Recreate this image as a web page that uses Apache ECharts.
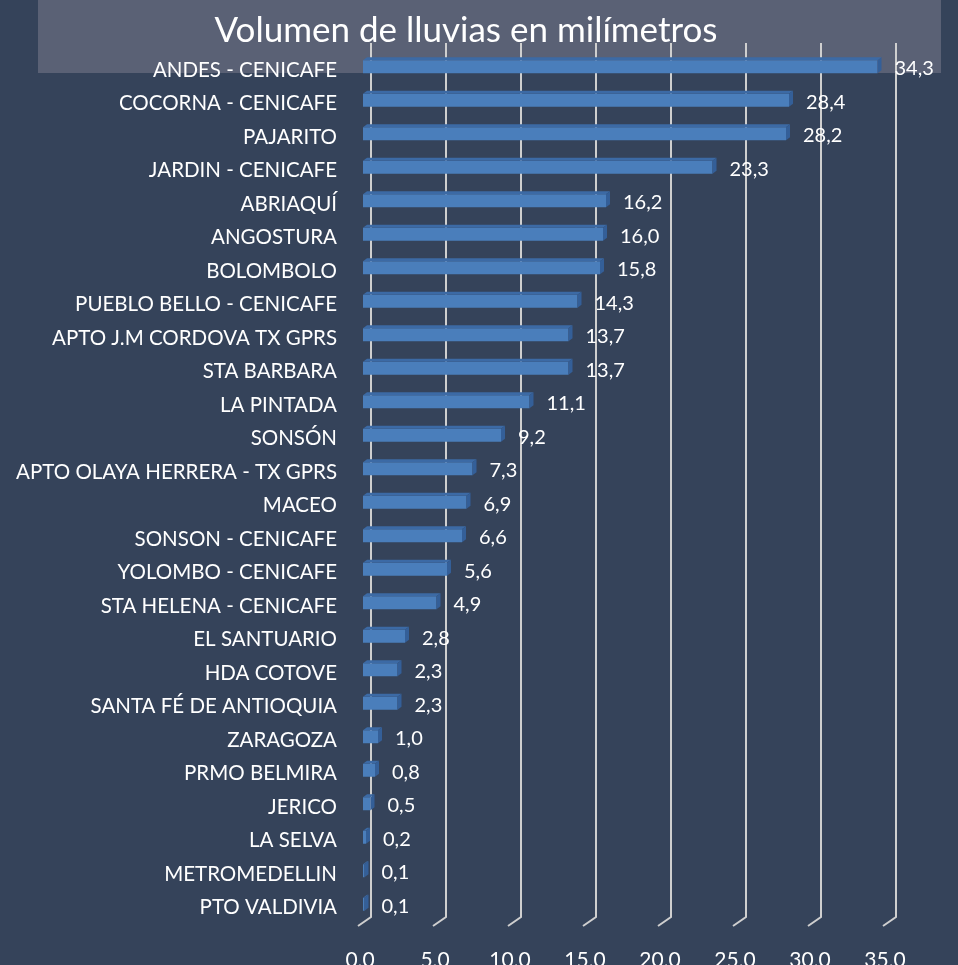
<!DOCTYPE html>
<html><head><meta charset="utf-8">
<script src="https://cdn.jsdelivr.net/npm/echarts@6/dist/echarts.min.js"></script>
<style>html,body{margin:0;padding:0;background:#35435a;} #c{width:958px;height:965px;}</style>
</head><body><div id="c"></div>
<script>
const titleText = 'Volumen de lluvias en milímetros';
const categories = [
  'ANDES - CENICAFE','COCORNA - CENICAFE','PAJARITO','JARDIN - CENICAFE','ABRIAQUÍ','ANGOSTURA',
  'BOLOMBOLO','PUEBLO BELLO - CENICAFE','APTO J.M CORDOVA TX GPRS','STA BARBARA','LA PINTADA','SONSÓN',
  'APTO OLAYA HERRERA - TX GPRS','MACEO','SONSON - CENICAFE','YOLOMBO - CENICAFE','STA HELENA - CENICAFE',
  'EL SANTUARIO','HDA COTOVE','SANTA FÉ DE ANTIOQUIA','ZARAGOZA','PRMO BELMIRA','JERICO','LA SELVA',
  'METROMEDELLIN','PTO VALDIVIA'
];
const values = [34.3,28.4,28.2,23.3,16.2,16.0,15.8,14.3,13.7,13.7,11.1,9.2,7.3,6.9,6.6,5.6,4.9,2.8,2.3,2.3,1.0,0.8,0.5,0.2,0.1,0.1];
const tickValues = [0,5,10,15,20,25,30,35];

const fmt = v => v.toFixed(1).replace('.', ',');
const FONT = 'Lato, "Open Sans", sans-serif';

function renderBar(params, api) {
  const v = api.value(0), cat = api.value(1);
  const p0 = api.coord([0, cat]);
  const p1 = api.coord([v, cat]);
  const h = 13, dx = 4, dy = -3;
  const x0 = p0[0], x1 = p1[0], yT = p0[1] - h / 2, yB = p0[1] + h / 2;
  return {
    type: 'group',
    children: [
      { type: 'rect', shape: { x: x0, y: yT, width: x1 - x0, height: h }, style: { fill: '#4a7ebb' } },
      { type: 'polygon', shape: { points: [[x0, yT], [x1, yT], [x1 + dx, yT + dy], [x0 + dx, yT + dy]] }, style: { fill: '#3c6aa5' } },
      { type: 'polygon', shape: { points: [[x1, yT], [x1 + dx, yT + dy], [x1 + dx, yB + dy], [x1, yB]] }, style: { fill: '#345f98' } },
      { type: 'text', z2: 10, style: { text: fmt(v), x: x1 + 17, y: p0[1] + 2, fill: '#ffffff', font: '20px ' + FONT, verticalAlign: 'middle', align: 'left' } }
    ]
  };
}

function renderGridLine(params, api) {
  const cs = params.coordSys;
  const x = api.coord([api.value(0), 0])[0] + 8;
  const top = cs.y - 7;
  const bottom = cs.y + cs.height - 4;
  return {
    type: 'polyline',
    shape: { points: [[x, top], [x, bottom], [x - 13, bottom + 9]] },
    style: { stroke: '#cfcfcf', lineWidth: 2, fill: null }
  };
}

const chart = echarts.init(document.getElementById('c'), null, { renderer: 'canvas' });
chart.setOption({
  backgroundColor: '#35435a',
  animation: false,
  graphic: [
    { type: 'rect', z: -10, shape: { x: 38, y: 0, width: 903, height: 73 }, style: { fill: '#5a6175' } },
    { type: 'text', z: 100, style: { text: titleText, x: 466, y: 31, align: 'center', verticalAlign: 'middle', fill: '#ffffff', font: '35px ' + FONT } }
  ],
  grid: { left: 363, top: 50, width: 525, height: 871, containLabel: false, outerBoundsMode: 'none' },
  xAxis: {
    type: 'value', min: 0, max: 35, interval: 5,
    splitLine: { show: false }, axisLine: { show: false }, axisTick: { show: false },
    axisLabel: { color: '#ffffff', fontSize: 21, fontFamily: FONT, margin: 29, padding: [0, 6, 0, 0], formatter: v => fmt(v) }
  },
  yAxis: {
    type: 'category', inverse: true, data: categories,
    axisLine: { show: false }, axisTick: { show: false }, splitLine: { show: false },
    axisLabel: { color: '#ffffff', fontSize: 20.5, fontFamily: FONT, margin: 26, verticalAlign: 'top', lineHeight: 7 }
  },
  series: [
    { type: 'custom', z: 1, renderItem: renderGridLine, encode: { x: 0, y: 1 }, data: tickValues.map(v => [v, 0]), silent: true },
    { type: 'custom', z: 3, renderItem: renderBar, encode: { x: 0, y: 1 }, data: values.map((v, i) => [v, i]), silent: true }
  ]
});
</script></body></html>
